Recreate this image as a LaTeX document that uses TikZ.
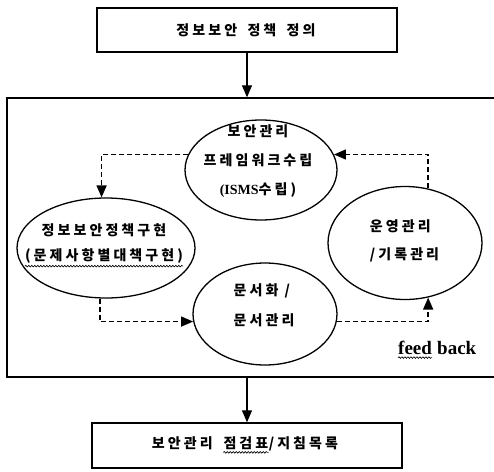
\documentclass[tikz,border=0pt]{standalone}
\usepackage{fontspec}
\usetikzlibrary{shapes.geometric,arrows.meta,decorations.pathmorphing}
\newfontfamily\kr{Noto Sans CJK KR}[LetterSpace=22]
\newfontfamily\lat{Liberation Serif}
\newcommand\wav[2]{\tikz[baseline=(#1.base)]{\node[inner sep=0pt] (#1) {#2};
  \draw[line width=0.6pt, decorate, decoration={snake, amplitude=0.8pt, segment length=3pt}] ([yshift=-2.5pt]#1.south west) -- ([yshift=-2.5pt]#1.south east);}}
\begin{document}
\begin{tikzpicture}[x=1pt,y=-1pt,
  box/.style={draw, line width=1.4pt, inner sep=0pt},
  ell/.style={draw, ellipse, line width=1.3pt, inner sep=0pt},
  txt/.style={align=center, inner sep=0pt, font=\kr\bfseries\fontsize{14}{25}\selectfont},
  dsh/.style={line width=1.4pt, dash pattern=on 5pt off 3pt, -{Triangle[length=12pt,width=10pt]}},
  sol/.style={line width=1.3pt, -{Triangle[length=12pt,width=10pt]}}]
\useasboundingbox (0,0) rectangle (494,471);
% top box
\node[box, minimum width=300pt, minimum height=44pt] (def) at (247,30) {};
\node[txt] (deft) at (246,30) {정보보안\hspace{4pt} 정책\hspace{4pt} 정의};
% frame (its right side runs to the page edge)
\node[box, minimum width=493pt, minimum height=279pt] (frame) at (253.5,237.5) {};
% bottom box
\node[box, minimum width=310pt, minimum height=45pt] (chk) at (247,445.5) {};
\node[txt] (chkt) at (245,445) {보안관리\hspace{4pt} \wav{wchk}{점검표}/지침목록};
% ellipses
\node[ell, minimum width=152pt, minimum height=100pt] (fw) at (261,170) {};
\node[txt, font=\kr\bfseries\fontsize{14}{29}\selectfont] (fwt) at (258,161) {보안관리\\프레임워크수립\\{\lat (ISMS}수립)};
\node[ell, minimum width=178pt, minimum height=100pt] (impl) at (106,248) {};
\node[txt] (implt) at (104,245.5) {정보보안정책구현\\\wav{wimpl}{(문제사항별대책구현)}};
\node[ell, minimum width=154pt, minimum height=113pt] (ops) at (405,243) {};
\node[txt, align=left, font=\kr\bfseries\fontsize{14}{28}\selectfont] (opst) at (404.5,241) {운영관리\\/기록관리};
\node[ell, minimum width=144pt, minimum height=102pt] (doc) at (265,314) {};
\node[txt, align=left, font=\kr\bfseries\fontsize{14}{30}\selectfont] (doct) at (264,305) {문서화 /\\문서관리};
% feed back
\node[inner sep=0pt, font=\lat\bfseries\fontsize{19}{21}\selectfont] (fb) at (437,350) {\wav{wfb}{feed} back};
% solid arrows
\draw[sol] (def.south) -- (def.south |- frame.north);
\draw[sol] (def.south |- frame.south) -- (chk.north);
% dashed cycle
\draw[dsh] (fw.168) -| (impl.95);
\draw[dsh] (impl.-97) |- (doc.186);
\draw[dsh] (doc.-6) -| (ops.-67);
\draw[dsh] (ops.67) |- (fw.12);
\end{tikzpicture}
\end{document}
